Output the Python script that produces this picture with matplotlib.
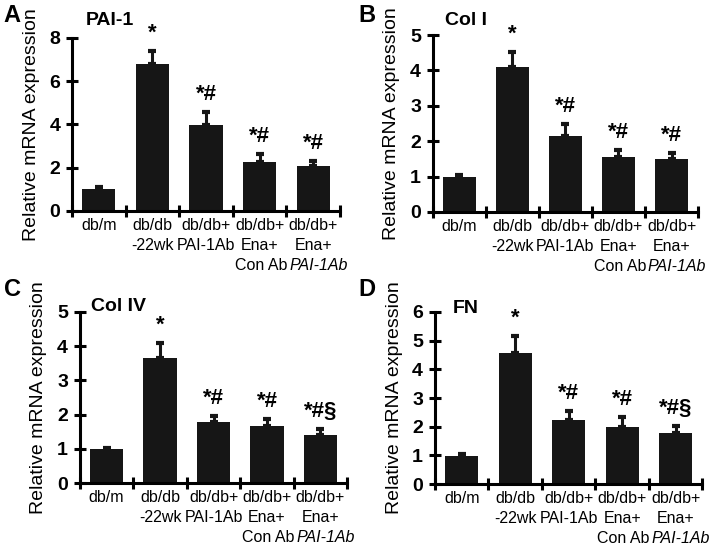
import numpy as np
import matplotlib
matplotlib.use("Agg")
import matplotlib.pyplot as plt

plt.rcParams['font.family'] = ['Liberation Sans', 'DejaVu Sans']

groups = ["db/m", "db/db-22wk", "db/db+PAI-1Ab", "db/db+Ena+Con Ab", "db/db+Ena+PAI-1Ab"]
# label lines under each bar (last line of last group is italic)
label_lines = [["db/m"], ["db/db", "-22wk"], ["db/db+", "PAI-1Ab"],
               ["db/db+", "Ena+", "Con Ab"], ["db/db+", "Ena+", "PAI-1Ab"]]

pai1_mean = [1.0, 6.8, 3.98, 2.28, 2.07]
pai1_err = [0.08, 0.6, 0.6, 0.34, 0.25]
col1_mean = [1.0, 4.1, 2.16, 1.56, 1.49]
col1_err = [0.03, 0.42, 0.34, 0.19, 0.18]
col4_mean = [1.0, 3.65, 1.77, 1.67, 1.41]
col4_err = [0.02, 0.44, 0.2, 0.2, 0.16]
fn_mean = [0.98, 4.57, 2.25, 1.99, 1.78]
fn_err = [0.06, 0.6, 0.31, 0.34, 0.25]

pai1_sig = ["", "*", "*#", "*#", "*#"]
col1_sig = ["", "*", "*#", "*#", "*#"]
col4_sig = ["", "*", "*#", "*#", "*#§"]
fn_sig = ["", "*", "*#", "*#", "*#§"]

# letter, title, means, errors, marks, ymax, step, axes rect, title pos
panels = [
    ("A", "PAI-1", pai1_mean, pai1_err, pai1_sig, 8, 2, [0.101, 0.616, 0.376, 0.315], (0.05, 1.10)),
    ("B", "Col I", col1_mean, col1_err, col1_sig, 5, 1, [0.607, 0.614, 0.372, 0.322], (0.045, 1.085)),
    ("C", "Col IV", col4_mean, col4_err, col4_sig, 5, 1, [0.112, 0.120, 0.375, 0.312], (0.04, 1.03)),
    ("D", "FN", fn_mean, fn_err, fn_sig, 6, 1, [0.610, 0.118, 0.375, 0.314], (0.067, 1.02)),
]

fig = plt.figure(figsize=(7.13, 5.49), dpi=100)

for letter, title, mean, err, sig, ymax, step, rect, tpos in panels:
    ax = fig.add_axes(rect)
    x = np.arange(len(mean)) + 0.5
    ax.bar(x, mean, width=0.62, color="#161616", zorder=2)
    ax.errorbar(x, mean, yerr=[np.zeros(len(err)), err], fmt="none",
                ecolor="#161616", elinewidth=2.2, capsize=3, capthick=3, zorder=1)
    ax.set_xlim(0, len(mean))
    ax.set_ylim(0, ymax)
    ax.set_yticks(np.arange(0, ymax + 0.01, step))
    ax.set_xticks(np.arange(0, len(mean) + 1))
    ax.set_xticklabels([])
    for s in ["top", "right"]:
        ax.spines[s].set_visible(False)
    for s in ["left", "bottom"]:
        ax.spines[s].set_linewidth(2.2)
    ax.tick_params(axis="both", direction="inout", length=9, width=2.2)
    ax.tick_params(axis="y", labelsize=14, pad=4)
    for t in ax.get_yticklabels():
        t.set_fontweight("bold")
    ax.set_ylabel("Relative mRNA expression", fontsize=14, labelpad=7)

    # category labels
    for i, lines in enumerate(label_lines):
        for j, line in enumerate(lines):
            italic = (i == 4 and j == 2)
            dx = 4 if italic else (1 if (i == 3 and j == 2) else 0)
            ax.annotate(line, xy=(x[i], 0), xycoords=("data", "axes fraction"),
                        xytext=(dx, -5 - 14.4 * j), textcoords="offset points",
                        ha="center", va="top", fontsize=11.5,
                        style="italic" if italic else "normal")

    # significance marks
    for i, s in enumerate(sig):
        if s:
            ax.annotate(s, xy=(x[i], mean[i] + err[i]), xytext=(0, 5),
                        textcoords="offset points", ha="center", va="bottom",
                        fontsize=16, fontweight="bold")

    ax.text(tpos[0], tpos[1], title, transform=ax.transAxes, fontsize=14,
            fontweight="bold", va="center", ha="left")

letters = [("A", 0.005, 0.972), ("B", 0.502, 0.972), ("C", 0.005, 0.472), ("D", 0.502, 0.472)]
for lab, lx, ly in letters:
    fig.text(lx, ly, lab, fontsize=17, fontweight="bold", va="center", ha="left")

fig.savefig("out.png", dpi=100)
